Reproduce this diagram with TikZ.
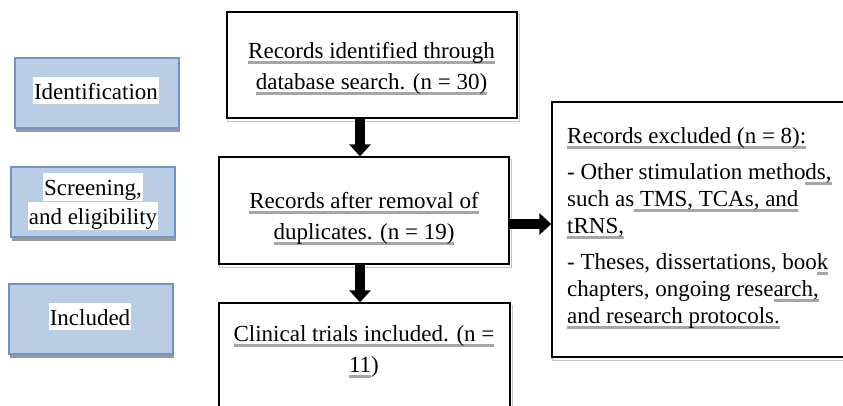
\documentclass[tikz,border=0pt]{standalone}
\usepackage{fontspec}
\setmainfont{Liberation Serif}
\usetikzlibrary{arrows.meta,shadows,backgrounds}

\definecolor{phaseblue}{HTML}{B9CDE5}
\definecolor{phaseedge}{HTML}{7094C4}
\definecolor{checkgray}{HTML}{A6A6A6}
\definecolor{edgeshadow}{HTML}{C4C4C4}

% white highlight behind the phase labels
\newcommand\hlstrut{\rule[-4pt]{0pt}{25pt}}
\newcommand\hl[1]{{\setlength{\fboxsep}{1pt}\colorbox{white}{\hlstrut#1}}}
% grey proofing underline
\newcommand\gul[1]{\setbox0=\hbox{#1}\leavevmode\rlap{\textcolor{checkgray}{\rule[-5.5pt]{\wd0}{2.6pt}}}\box0}

\begin{document}
\begin{tikzpicture}[x=1pt,y=-1pt,
  phase/.style={draw=phaseedge, line width=1.2pt, fill=phaseblue,
    minimum width=164pt, minimum height=70pt, inner sep=0pt,
    drop shadow={shadow xshift=1pt, shadow yshift=-3.5pt, fill=black!40, opacity=1}},
  stage/.style={draw=black, line width=1.3pt, fill=white, inner sep=0pt},
  lbl/.style={font=\fontsize{23}{27}\selectfont, inner sep=0pt},
  boxtext/.style={lbl, align=center, font=\fontsize{23}{31}\selectfont},
  shadowline/.style={draw=edgeshadow, line width=1pt},
  fatarrow/.style={line width=10pt, -{Triangle[width=21pt,length=12pt]}}]

\clip (0,0) rectangle (843,405);

% phase labels on the left
\node[phase] (ident)  at (97,93)  {};
\node[phase] (screen) at (93,202) {};
\node[phase] (incl)   at (91,319) {};

% multi-line texts are placed by the baseline of their last line
\node[lbl, anchor=base] (identtxt) at (96,99) {\hl{Identification}};
\node[lbl, anchor=base, align=center] (screentxt) at (93,224) {\hl{Screening,}\\\hl{and eligibility}};
\node[lbl, anchor=base] (incltxt) at (90,325) {\hl{Included}};

% flow boxes
\node[stage, minimum width=290pt, minimum height=106pt] (found) at (372,65) {};
\node[stage, minimum width=290pt, minimum height=107pt] (dedup) at (364,210.5) {};
\node[stage, minimum width=291pt, minimum height=140pt] (kept)  at (364.5,373) {};
\node[stage, minimum width=300pt, minimum height=255pt] (excl)  at (702,229.5) {};

\begin{scope}[on background layer]
  \foreach \b in {found,dedup,kept,excl}
    \draw[shadowline] ([shift={(1.5,3)}]\b.north west) rectangle ([shift={(1.5,3)}]\b.south east);
\end{scope}

\node[boxtext, anchor=base] (foundtxt) at (371.5,89)
  {\gul{Records identified through}\\\gul{database search. (n = 30)}};
\node[boxtext, anchor=base] (deduptxt) at (364,239)
  {\gul{Records after removal of}\\\gul{duplicates. (n = 19)}};
\node[boxtext, anchor=base] (kepttxt) at (364,372)
  {\gul{Clinical trials included. (n =}\\\gul{11})};
\node[lbl, anchor=base west, align=left] (excltxt) at (567,323)
  {\gul{Records excluded (n = 8):}\\[9pt]
   - Other stimulation metho\gul{ds,}\\
   such as\gul{ TMS, TCAs, and}\\
   \gul{tRNS,}\\[9pt]
   - Theses, dissertations, boo\gul{k}\\
   chapters, ongoing rese\gul{arch,}\\
   \gul{and research protocols.}};

% connectors
\coordinate (ax) at (360,0);
\coordinate (ay) at (0,224);
\draw[fatarrow] (found.south -| ax) -- (dedup.north -| ax);
\draw[fatarrow] (dedup.south -| ax) -- (kept.north -| ax);
\draw[fatarrow] (dedup.east |- ay) -- (excl.west |- ay);
\end{tikzpicture}
\end{document}
